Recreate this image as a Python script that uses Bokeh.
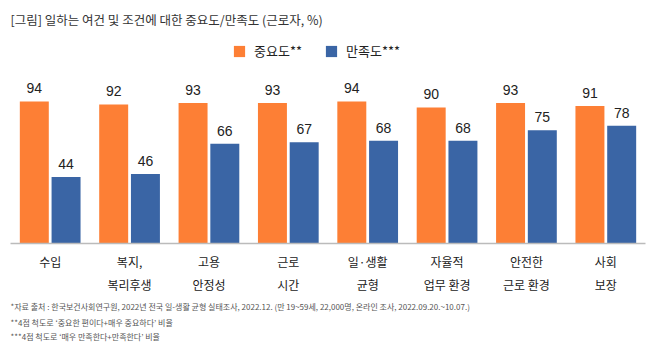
from bokeh.plotting import figure
from bokeh.models import FactorRange, Label, Legend, LegendItem, ColumnDataSource, Title
from bokeh.transform import dodge
from bokeh.embed import file_html
from bokeh.resources import INLINE
from bokeh.core.properties import value

label_line1 = ["수입", "복지,", "고용", "근로", "일·생활", "자율적", "안전한", "사회"]
label_line2 = ["", "복리후생", "안정성", "시간", "균형", "업무 환경", "근로 환경", "보장"]
importance = [94, 92, 93, 93, 94, 90, 93, 91]
satisfaction = [44, 46, 66, 67, 68, 68, 75, 78]
series_names = ["중요도**", "만족도***"]
title_text = "[그림] 일하는 여건 및 조건에 대한 중요도/만족도 (근로자, %)"
footnotes = [
    "*자료 출처 : 한국보건사회연구원, 2022년 전국 일-생활 균형 실태조사, 2022.12. (만 19~59세, 22,000명, 온라인 조사, 2022.09.20.~10.07.)",
    "**4점 척도로 ‘중요한 편이다+매우 중요하다’ 비율",
    "***4점 척도로 ‘매우 만족한다+만족한다’ 비율",
]

ORANGE = "#FD7F35"
BLUE = "#3A65A5"
KR = "Noto Sans CJK KR"

# two-level factors: (second line, first line) so the first line sits next to the axis
factors = list(zip(label_line2, label_line1))

src = ColumnDataSource(dict(cat=factors, imp=importance, sat=satisfaction,
                            imp_t=[str(v) for v in importance],
                            sat_t=[str(v) for v in satisfaction]))

W, H = 658, 351
BOTTOM = 108
p = figure(width=W, height=H,
           x_range=FactorRange(*factors, factor_padding=0, group_padding=0, range_padding=0),
           y_range=(0, 160.8),
           output_backend="svg", toolbar_location=None,
           min_border_left=10, min_border_right=13, min_border_top=0, min_border_bottom=BOTTOM)
p.outline_line_color = None
p.grid.visible = False
p.yaxis.visible = False

r1 = p.vbar(x=dodge("cat", -0.2, range=p.x_range), top="imp", width=0.365, source=src,
            fill_color=ORANGE, line_color=None)
r2 = p.vbar(x=dodge("cat", 0.2, range=p.x_range), top="sat", width=0.365, source=src,
            fill_color=BLUE, line_color=None)

for col, off in (("imp_t", -0.2), ("sat_t", 0.2)):
    p.text(x=dodge("cat", off, range=p.x_range), y=col.replace("_t", ""), text=col, source=src,
           text_align="center", text_baseline="bottom", y_offset=-8,
           text_font=value("Liberation Sans"), text_font_size="14px", text_color="#222222")

xa = p.xaxis[0]
xa.axis_line_color = "#BBBBBB"
xa.axis_line_width = 1.5
xa.major_tick_line_color = None
xa.minor_tick_line_color = None
xa.major_label_standoff = 3
xa.major_label_text_font = KR
xa.major_label_text_font_size = "12px"
xa.major_label_text_color = "#222222"
xa.group_text_font = KR
xa.group_text_font_size = "12px"
xa.group_text_font_style = "normal"
xa.group_text_color = "#222222"
xa.separator_line_color = None

legend = Legend(items=[LegendItem(label=series_names[0], renderers=[r1]),
                       LegendItem(label=series_names[1], renderers=[r2])],
                orientation="horizontal", location=(222, 183),
                label_text_font=KR, label_text_font_size="13px", label_text_color="#222222",
                glyph_width=14, glyph_height=14, spacing=22, label_standoff=8,
                background_fill_alpha=0, border_line_color=None, padding=0, margin=0)
p.add_layout(legend)

p.add_layout(Label(x=0, y=(H - BOTTOM) - 19, x_units="screen", y_units="screen", text=title_text,
                   text_font=KR, text_font_size="12.5px", text_color="#333333",
                   text_baseline="middle"))

for i, t in enumerate(footnotes):
    p.add_layout(Title(text=t, align="left", offset=0, standoff=6 if i == 0 else 0.5,
                       text_font=KR, text_font_size="8px", text_font_style="normal",
                       text_color="#555555"), "below")

open("out.html", "w").write(file_html(p, INLINE))
